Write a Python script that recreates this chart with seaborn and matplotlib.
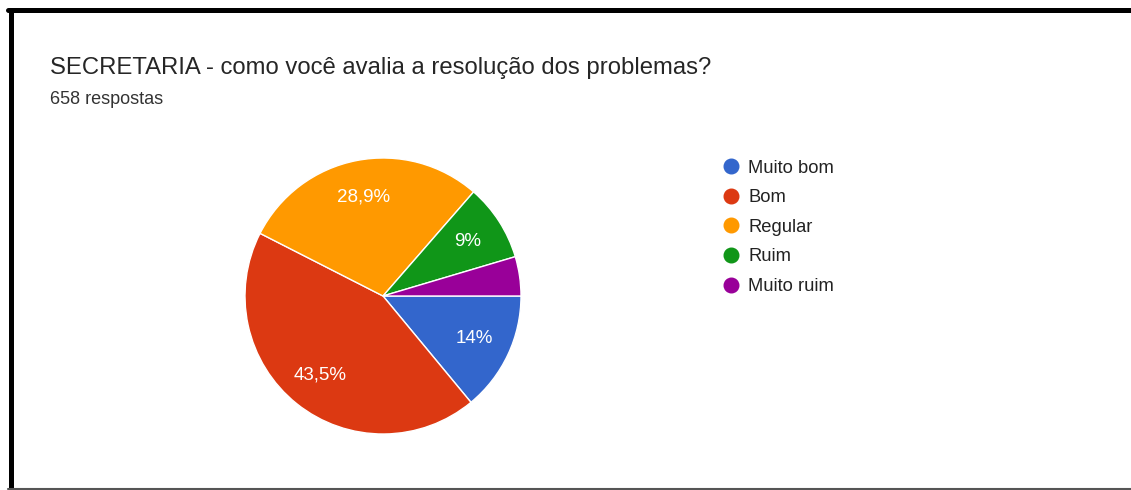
import matplotlib
matplotlib.use("Agg")
import matplotlib.pyplot as plt
from matplotlib.lines import Line2D
import numpy as np
import seaborn as sns

# data
categories = ["Muito bom", "Bom", "Regular", "Ruim", "Muito ruim"]
percentages = [14.0, 43.5, 28.9, 9.0, 4.6]
colors = ["#3366CC", "#DC3912", "#FF9900", "#109618", "#990099"]
title = "SECRETARIA - como você avalia a resolução dos problemas?"
subtitle = "658 respostas"

sns.set_theme(style="white")
plt.rcParams["font.family"] = ["Liberation Sans", "DejaVu Sans"]
palette = sns.color_palette(colors)


def pct_label(v):
    # google forms hides labels on tiny slices, uses comma decimals
    if v < 5:
        return ""
    return f"{v:.1f}".rstrip("0").rstrip(".").replace(".", ",") + "%"


fig = plt.figure(figsize=(11.31, 4.90), dpi=100)
fig.patch.set_facecolor("white")

W, H = 1131, 490
cx, cy, r = 383, 296, 138
ax = fig.add_axes([(cx - r) / W, (H - cy - r) / H, 2 * r / W, 2 * r / H])

wedges, texts = ax.pie(
    percentages,
    colors=palette,
    startangle=0,
    counterclock=False,
    wedgeprops=dict(edgecolor="white", linewidth=1),
)
for w, v in zip(wedges, percentages):
    ang = np.deg2rad((w.theta1 + w.theta2) / 2)
    ax.text(0.73 * np.cos(ang), 0.73 * np.sin(ang), pct_label(v),
            ha="center", va="center", color="white", fontsize=13.5)
ax.set_xlim(-1.0, 1.0)
ax.set_ylim(-1.0, 1.0)
ax.set_aspect("equal")
ax.axis("off")

# title and subtitle
fig.text(50 / W, 1 - 68 / H, title, ha="left", va="center",
         fontsize=17.2, color="#262626")
fig.text(50 / W, 1 - 100 / H, subtitle, ha="left", va="center",
         fontsize=13, color="#333333")

# legend
handles = [
    Line2D([], [], marker="o", linestyle="", markersize=10.5,
           markerfacecolor=c, markeredgecolor=c)
    for c in palette
]
fig.legend(handles, categories, loc="upper left",
           bbox_to_anchor=(704 / W, 1 - 143 / H), frameon=False,
           fontsize=13.2, labelspacing=0.69, handletextpad=0.4,
           handlelength=1.1, labelcolor="#222222")

# screenshot frame
fig.add_artist(Line2D([8 / W, 1], [1 - 10 / H, 1 - 10 / H], color="black",
                      linewidth=3.6, transform=fig.transFigure))
fig.add_artist(Line2D([11 / W, 11 / W], [0, 1 - 10 / H], color="black",
                      linewidth=3.6, transform=fig.transFigure))
fig.add_artist(Line2D([8 / W, 1], [1.5 / H, 1.5 / H], color="#555555",
                      linewidth=1.5, transform=fig.transFigure))

fig.savefig("out.png", dpi=100, facecolor="white")
